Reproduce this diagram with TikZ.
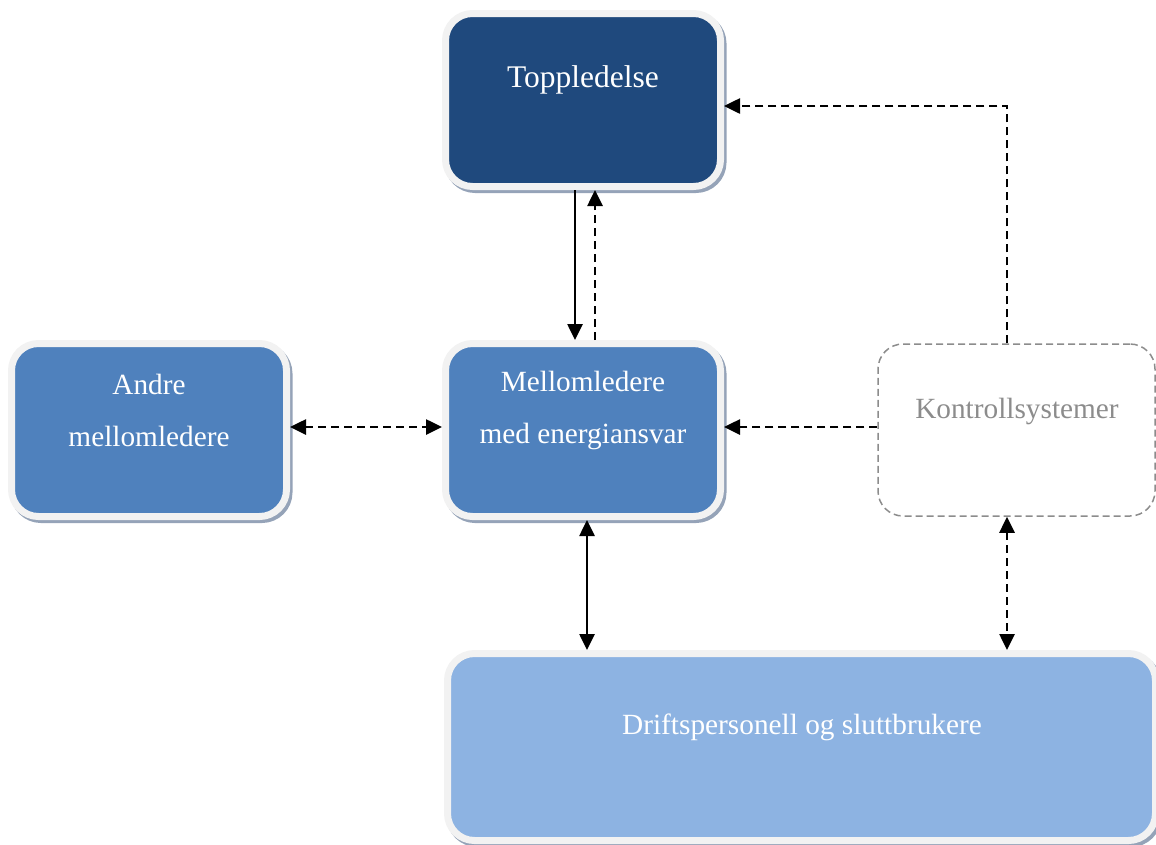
\documentclass[tikz,border=0pt]{standalone}
\usepackage{fontspec}
\setmainfont{Liberation Serif}
\usetikzlibrary{arrows.meta}
\definecolor{darkbox}{HTML}{1F497D}
\definecolor{midbox}{HTML}{4F81BD}
\definecolor{lightbox}{HTML}{8DB3E2}
\definecolor{rimc}{HTML}{F2F2F2}
\definecolor{shadowc}{HTML}{95A3B8}
\definecolor{kontc}{HTML}{8C8C8C}
\tikzset{
  panel/.style={draw=rimc, line width=7pt, rounded corners=27pt, inner sep=0pt,
    preaction={draw=shadowc, fill=shadowc, line width=7pt,
      transform canvas={shift={(2.5pt,-3pt)}}}},
  boxtext/.style={text=white, font=\fontsize{29.3}{52}\selectfont, align=center, inner sep=0pt},
  kontbox/.style={draw=kontc, line width=1.5pt, dash pattern=on 7pt off 4pt, rounded corners=25pt, inner sep=0pt},
  conn/.style={line width=2.6pt, -{Triangle[length=16pt,width=15pt]}},
  conn2/.style={line width=2.6pt, {Triangle[length=16pt,width=15pt]}-{Triangle[length=16pt,width=15pt]}},
  dashedline/.style={dash pattern=on 8pt off 5pt},
}
\begin{document}
\begin{tikzpicture}[x=1pt,y=-1pt]
\useasboundingbox (0,0) rectangle (1156,844);
% boxes
\node[panel, fill=darkbox, minimum width=275pt, minimum height=173pt] (top) at (583,100) {};
\node[panel, fill=midbox, minimum width=275pt, minimum height=173pt] (mid) at (583,430) {};
\node[panel, fill=midbox, minimum width=275pt, minimum height=173pt] (andre) at (149,430) {};
\node[panel, fill=lightbox, minimum width=708pt, minimum height=187pt] (drift) at (801.5,747) {};
\node[kontbox, minimum width=277pt, minimum height=172pt] (kont) at (1016.5,430) {};
% texts
\node[boxtext, font=\fontsize{31.5}{52}\selectfont] (ttop) at (583,80) {Toppledelse};
\node[boxtext] (tmid) at (583,410) {Mellomledere\\med energiansvar};
\node[boxtext] (tandre) at (149,410) {Andre\\mellomledere};
\node[boxtext] (tdrift) at (802,727) {Driftspersonell og sluttbrukere};
\node[boxtext, text=kontc] (tkont) at (1017,411) {Kontrollsystemer};
% connectors
\draw[conn] ([xshift=-8pt]top.south) -- ([xshift=-8pt]mid.north);
\draw[conn, dashedline] ([xshift=12pt]mid.north) -- ([xshift=12pt]top.south);
\draw[conn, dashedline] ([xshift=-9.5pt]kont.north) |- ([yshift=-6pt]top.east);
\draw[conn, dashedline] ([yshift=3pt]kont.west) -- ([yshift=3pt]mid.east);
\draw[conn2, dashedline] ([yshift=3pt]andre.east) -- ([yshift=3pt]mid.west);
\draw[conn2] ([xshift=4pt]mid.south) -- ([xshift=4pt]mid.south |- drift.north);
\draw[conn2, dashedline] ([xshift=-9.5pt]kont.south) -- ([xshift=-9.5pt]kont.south |- drift.north);
\end{tikzpicture}
\end{document}
